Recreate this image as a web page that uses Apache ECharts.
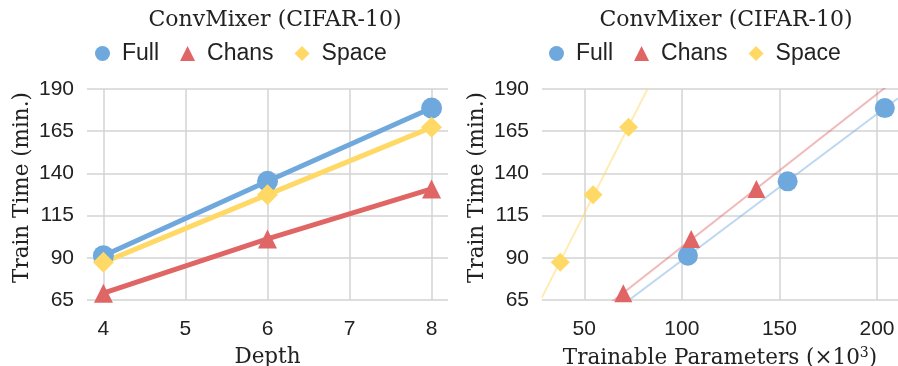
<!DOCTYPE html>
<html>
<head>
<meta charset="utf-8">
<script src="https://cdn.jsdelivr.net/npm/echarts@6/dist/echarts.min.js"></script>
<style>
  html, body { margin: 0; padding: 0; background: #fff; }
  #chart { width: 898px; height: 366px; }
</style>
</head>
<body>
<div id="chart"></div>
<script>
// Training time of ConvMixer on CIFAR-10 for three variants.
const depths = [4, 6, 8];
const fullTime = [91.2, 135.3, 178.7];
const chansTime = [69, 101.2, 130.8];
const spaceTime = [87.3, 127.4, 167.3];

// Trainable parameters (thousands) per depth for each variant
const fullParams = [103.1, 154.2, 204];
const chansParams = [70, 104.8, 138.2];
const spaceParams = [37.7, 54.5, 72.7];

const yTicks = [65, 90, 115, 140, 165, 190];

const BLUE = '#6fa8dc', RED = '#e06666', YELLOW = '#ffd966';
const SERIF = '"DejaVu Serif", serif';
const SANS = '"Liberation Sans", Arial, sans-serif';

const paramMin = 28.35, paramMax = 210.75;

// least-squares line evaluated at both ends of the parameter axis
function fitLine(xs, ys) {
  const n = xs.length;
  const mx = xs.reduce((a, b) => a + b, 0) / n;
  const my = ys.reduce((a, b) => a + b, 0) / n;
  let sxy = 0, sxx = 0;
  for (let i = 0; i < n; i++) { sxy += (xs[i] - mx) * (ys[i] - my); sxx += (xs[i] - mx) ** 2; }
  const k = sxy / sxx, b = my - k * mx;
  return [[paramMin, k * paramMin + b], [paramMax, k * paramMax + b]];
}
const pairs = (xs, ys) => xs.map((x, i) => [x, ys[i]]);

const chart = echarts.init(document.getElementById('chart'));

const yAxisBase = (gridIndex) => ({
  type: 'value', gridIndex,
  min: yTicks[0], max: yTicks[yTicks.length - 1], interval: yTicks[1] - yTicks[0],
  name: 'Train Time (min.)', nameLocation: 'middle', nameGap: 54,
  nameTextStyle: { fontFamily: SERIF, fontSize: 21.5, color: '#222', padding: [0, 0, 0, 14] },
  axisLine: { show: false }, axisTick: { show: false },
  axisLabel: { fontFamily: SANS, fontSize: 21, color: '#222', margin: 13 },
  splitLine: { lineStyle: { color: '#d3d3d3', width: 1.5 } }
});

const legendBase = (left) => ({
  left, top: 37, itemWidth: 15, itemHeight: 15, itemGap: 21,
  textStyle: { fontFamily: SANS, fontSize: 23, color: '#222', padding: [0, 0, 0, 7] },
  data: [
    { name: 'Full', icon: 'circle' },
    { name: 'Chans', icon: 'triangle' },
    { name: 'Space', icon: 'diamond' }
  ]
});

const titleStyle = { fontFamily: SERIF, fontSize: 22, fontWeight: 'normal', color: '#222' };

const option = {
  animation: false,
  title: [
    { text: 'ConvMixer (CIFAR-10)', left: 270, top: 4, textAlign: 'center', textStyle: titleStyle },
    { text: 'ConvMixer (CIFAR-10)', left: 721, top: 4, textAlign: 'center', textStyle: titleStyle }
  ],
  legend: [legendBase(90), legendBase(544)],
  grid: [
    { left: 87, right: 450, top: 89, bottom: 66, outerBoundsMode: 'none' },
    { left: 542, right: 0, top: 89, bottom: 66, outerBoundsMode: 'none' }
  ],
  xAxis: [
    { type: 'value', gridIndex: 0, min: 3.8, max: 8.2, splitNumber: 4,
      name: 'Depth', nameLocation: 'middle', nameGap: 46,
      nameTextStyle: { fontFamily: SERIF, fontSize: 21.5, color: '#222' },
      axisLine: { show: false }, axisTick: { show: false },
      axisLabel: { fontFamily: SANS, fontSize: 21, color: '#222', margin: 19,
                   showMinLabel: false, showMaxLabel: false },
      splitLine: { showMinLine: false, showMaxLine: false, lineStyle: { color: '#d3d3d3', width: 1.5 } } },
    { type: 'value', gridIndex: 1, min: paramMin, max: paramMax, splitNumber: 4,
      name: 'Trainable Parameters (×10{sup|3})', nameLocation: 'middle', nameGap: 46,
      nameTextStyle: { fontFamily: SERIF, fontSize: 21.5, color: '#222',
        rich: { sup: { fontFamily: SERIF, fontSize: 14, color: '#222', verticalAlign: 'top', padding: [0, 0, 10, 0] } } },
      axisLine: { show: false }, axisTick: { show: false },
      axisLabel: { fontFamily: SANS, fontSize: 21, color: '#222', margin: 19,
                   showMinLabel: false, showMaxLabel: false },
      splitLine: { showMinLine: false, showMaxLine: false, lineStyle: { color: '#d3d3d3', width: 1.5 } } }
  ],
  yAxis: [yAxisBase(0), yAxisBase(1)],
  series: [
    // depth vs time
    { name: 'Full', type: 'line', xAxisIndex: 0, yAxisIndex: 0, data: pairs(depths, fullTime),
      symbol: 'circle', symbolSize: 21, color: BLUE, lineStyle: { width: 5, color: BLUE }, itemStyle: { color: BLUE }, z: 3 },
    { name: 'Chans', type: 'line', xAxisIndex: 0, yAxisIndex: 0, data: pairs(depths, chansTime),
      symbol: 'triangle', symbolSize: 19, color: RED, lineStyle: { width: 5, color: RED }, itemStyle: { color: RED }, z: 3 },
    { name: 'Space', type: 'line', xAxisIndex: 0, yAxisIndex: 0, data: pairs(depths, spaceTime),
      symbol: 'diamond', symbolSize: 21, color: YELLOW, lineStyle: { width: 5, color: YELLOW }, itemStyle: { color: YELLOW }, z: 3 },

    // trend lines over parameter count
    { name: 'Full trend', type: 'line', xAxisIndex: 1, yAxisIndex: 1, data: fitLine(fullParams, fullTime),
      symbol: 'none', silent: true, lineStyle: { width: 2, color: BLUE, opacity: 0.45 }, z: 2 },
    { name: 'Chans trend', type: 'line', xAxisIndex: 1, yAxisIndex: 1, data: fitLine(chansParams, chansTime),
      symbol: 'none', silent: true, lineStyle: { width: 2, color: RED, opacity: 0.45 }, z: 2 },
    { name: 'Space trend', type: 'line', xAxisIndex: 1, yAxisIndex: 1, data: fitLine(spaceParams, spaceTime),
      symbol: 'none', silent: true, lineStyle: { width: 2, color: YELLOW, opacity: 0.5 }, z: 2 },

    // parameter count vs time
    { name: 'Full', type: 'scatter', xAxisIndex: 1, yAxisIndex: 1, data: pairs(fullParams, fullTime),
      symbol: 'circle', symbolSize: 20, itemStyle: { color: BLUE, opacity: 1 }, z: 4 },
    { name: 'Chans', type: 'scatter', xAxisIndex: 1, yAxisIndex: 1, data: pairs(chansParams, chansTime),
      symbol: 'triangle', symbolSize: 18, itemStyle: { color: RED, opacity: 1 }, z: 4 },
    { name: 'Space', type: 'scatter', xAxisIndex: 1, yAxisIndex: 1, data: pairs(spaceParams, spaceTime),
      symbol: 'diamond', symbolSize: 19, itemStyle: { color: YELLOW, opacity: 1 }, z: 4 }
  ]
};

chart.setOption(option);
</script>
</body>
</html>
